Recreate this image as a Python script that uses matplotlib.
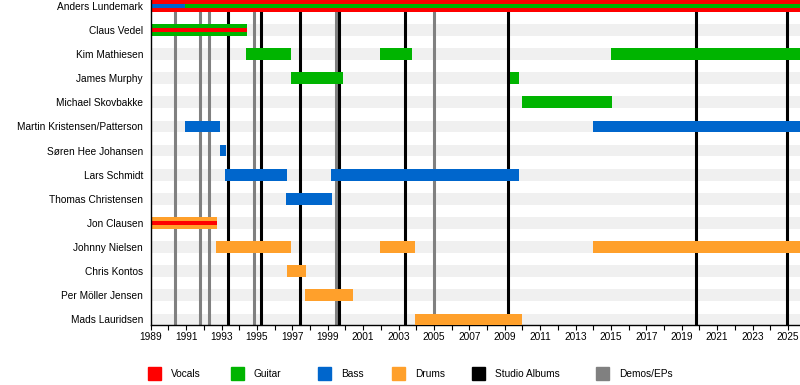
import matplotlib.pyplot as plt
from matplotlib.patches import Rectangle

plt.rcParams['font.family'] = ['Liberation Sans', 'DejaVu Sans']

END = 2025.68

members = ["Anders Lundemark", "Claus Vedel", "Kim Mathiesen", "James Murphy",
           "Michael Skovbakke", "Martin Kristensen/Patterson", "Søren Hee Johansen",
           "Lars Schmidt", "Thomas Christensen", "Jon Clausen", "Johnny Nielsen",
           "Chris Kontos", "Per Möller Jensen", "Mads Lauridsen"]

# (member, role, start, end)
main_bars = [
    ("Anders Lundemark", "Vocals", 1989.0, END),
    ("Claus Vedel", "Guitar", 1989.0, 1994.42),
    ("Kim Mathiesen", "Guitar", 1994.4, 1996.93),
    ("Kim Mathiesen", "Guitar", 2001.95, 2003.77),
    ("Kim Mathiesen", "Guitar", 2015.0, END),
    ("James Murphy", "Guitar", 1996.93, 1999.85),
    ("James Murphy", "Guitar", 2009.3, 2009.8),
    ("Michael Skovbakke", "Guitar", 2010.0, 2015.05),
    ("Martin Kristensen/Patterson", "Bass", 1990.95, 1992.92),
    ("Martin Kristensen/Patterson", "Bass", 2014.0, END),
    ("Søren Hee Johansen", "Bass", 1992.92, 1993.25),
    ("Lars Schmidt", "Bass", 1993.22, 1996.7),
    ("Lars Schmidt", "Bass", 1999.2, 2009.8),
    ("Thomas Christensen", "Bass", 1996.65, 1999.26),
    ("Jon Clausen", "Drums", 1989.0, 1992.75),
    ("Johnny Nielsen", "Drums", 1992.7, 1996.9),
    ("Johnny Nielsen", "Drums", 2001.95, 2003.93),
    ("Johnny Nielsen", "Drums", 2014.0, END),
    ("Chris Kontos", "Drums", 1996.7, 1997.77),
    ("Per Möller Jensen", "Drums", 1997.73, 2000.41),
    ("Mads Lauridsen", "Drums", 2003.93, 2010.0),
]

# secondary roles drawn as a thin stripe inside the main bar
inner_bars = [
    ("Anders Lundemark", "Bass", 1989.0, 1990.95),
    ("Anders Lundemark", "Guitar", 1990.95, END),
    ("Claus Vedel", "Vocals", 1989.0, 1994.42),
    ("Jon Clausen", "Vocals", 1989.0, 1992.75),
]

studio_albums = [1993.38, 1995.25, 1997.45, 1999.66, 2003.38, 2009.2, 2019.82, 2024.97]
demos_eps = [1990.37, 1991.8, 1992.31, 1994.85, 1999.45, 2005.02]

legend_labels = ["Vocals", "Guitar", "Bass", "Drums", "Studio Albums", "Demos/EPs"]
legend_x_px = [148, 231, 318, 392, 472, 596]

colors = {"Vocals": "#ff0000", "Guitar": "#00b400", "Bass": "#0066cc",
          "Drums": "#ffa02b", "Studio Albums": "#000000", "Demos/EPs": "#808080"}

W, H = 800, 385
fig = plt.figure(figsize=(W / 100, H / 100), dpi=100)
ax = fig.add_axes([150.7 / W, 1 - 325.3 / H, 1 - 150.7 / W, 325.3 / H])

h = 0.485
ypos = {m: i for i, m in enumerate(members)}

# background stripes
ax.barh(range(len(members)), END - 1989, left=1989, height=h, color="#f0f0f0", zorder=1)

for x in demos_eps:
    ax.axvline(x, color=colors["Demos/EPs"], lw=2.2, zorder=2)
for x in studio_albums:
    ax.axvline(x, color=colors["Studio Albums"], lw=2.2, zorder=2)

for m, role, s, e in main_bars:
    ax.barh(ypos[m], e - s, left=s, height=h, color=colors[role], zorder=3)
for m, role, s, e in inner_bars:
    ax.barh(ypos[m], e - s, left=s, height=h * 0.37, color=colors[role], zorder=4)

ax.set_xlim(1989, END)
ax.set_ylim(len(members) - 1 + h / 2, -h / 2)
ax.set_yticks(range(len(members)))
ax.set_yticklabels(members)
ax.set_xticks(range(1989, 2026, 2))
ax.set_xticks(range(1990, 2026, 2), minor=True)
ax.tick_params(axis='y', length=0, pad=5.5, labelsize=7.3)
ax.tick_params(axis='x', which='both', length=3.6, width=0.8, pad=1.5, labelsize=7.3)
for side in ("top", "right"):
    ax.spines[side].set_visible(False)
ax.spines["left"].set_linewidth(1.0)
ax.spines["bottom"].set_linewidth(1.0)
ax.spines["left"].set_zorder(5)

# legend row under the axis
for lab, xp in zip(legend_labels, legend_x_px):
    fig.patches.append(Rectangle((xp / W, 1 - 379.7 / H), 13 / W, 12.4 / H,
                                 transform=fig.transFigure, color=colors[lab]))
    fig.text((xp + 23) / W, 1 - 373.8 / H, lab, fontsize=7.3, va="center", ha="left")

fig.savefig("out.png", dpi=100)
